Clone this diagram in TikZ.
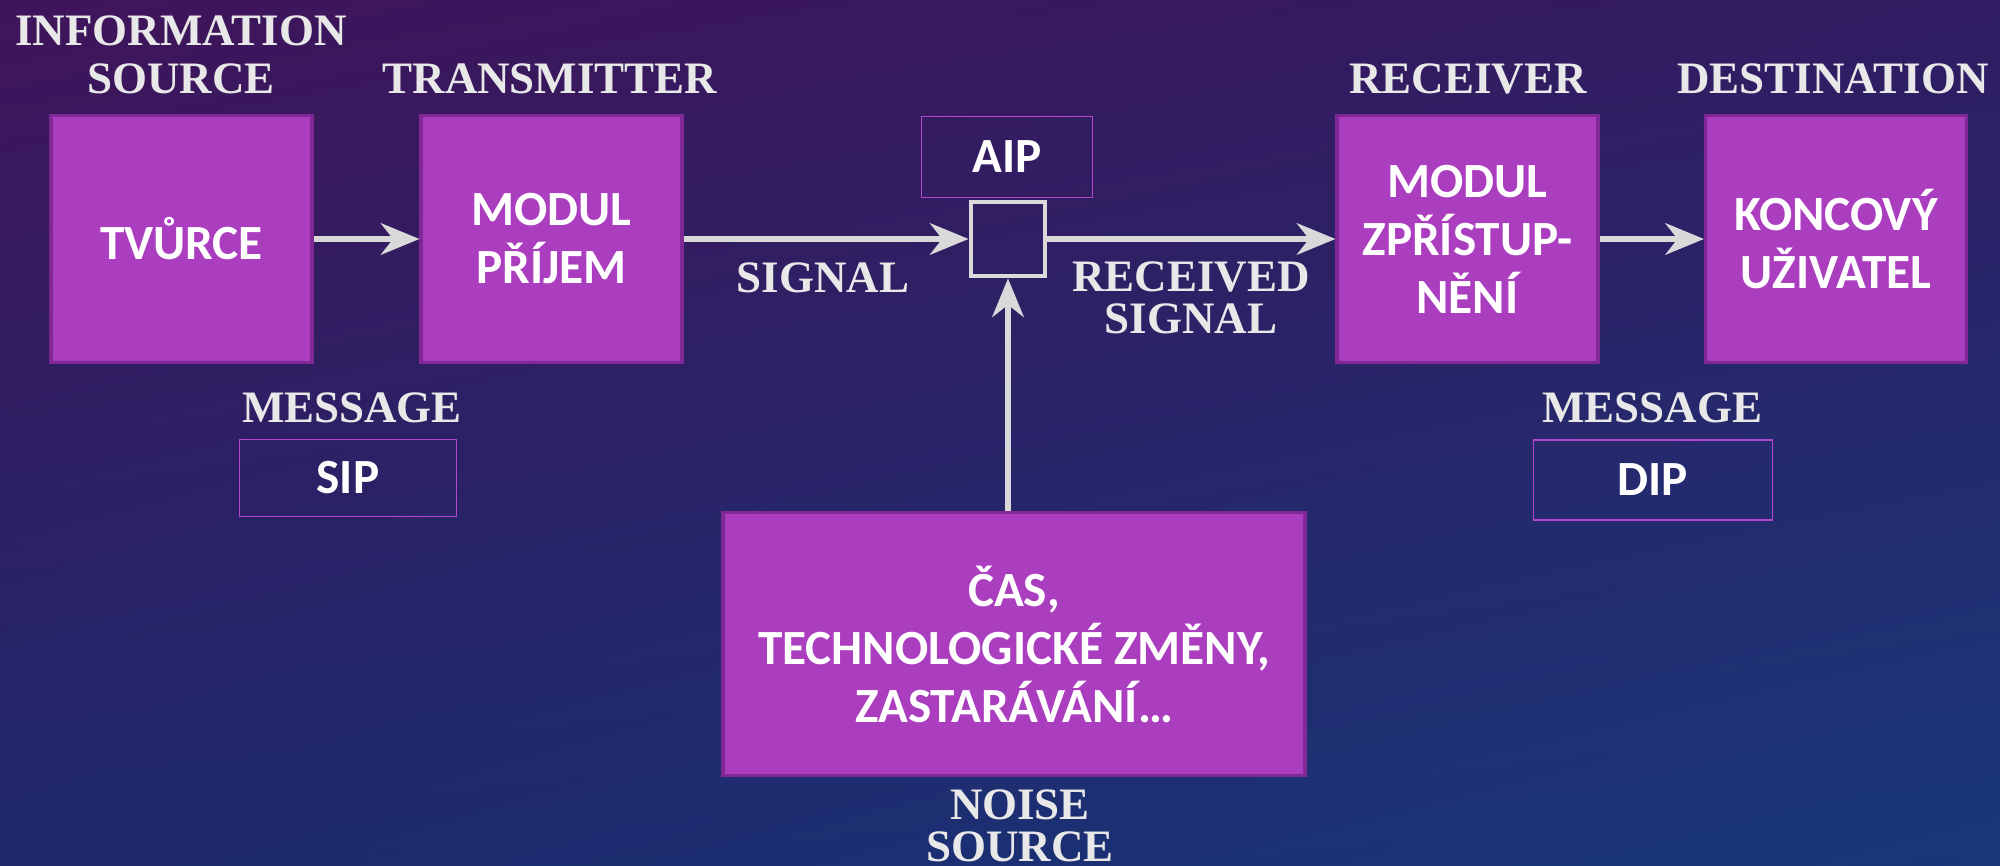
\documentclass[tikz,border=0pt]{standalone}
\usepackage{fontspec}
\setmainfont{Liberation Serif}
\newfontfamily\boxfont{Carlito}
\usetikzlibrary{arrows.meta,shadings}

\begin{document}
\begin{tikzpicture}
          [every node/.style = {align = center},
           block/.style   = {draw = blockline, line width = 0.9pt, fill = blockcolor, text = white,
                             font = \boxfont\bfseries\fontsize{14}{16.5}\selectfont,
                             minimum width = 2.61cm, minimum height = 2.47cm, inner sep = 0pt},
           infobox/.style = {draw = infoline, line width = 0.5pt, text = white,
                             font = \boxfont\bfseries\fontsize{14}{16.5}\selectfont, inner sep = 0pt},
           caption/.style = {text = labelcolor, font = \bfseries\fontsize{12.8}{11.8}\selectfont, inner sep = 0pt},
           flow/.style    = {draw = arrowcolor, line width = 1.5pt,
                             -{Stealth[length = 11pt, width = 9pt, inset = 3.5pt]}}]

% Define colours
\definecolor{blockcolor}{RGB}{171,61,191}
\definecolor{blockline}{RGB}{128,40,150}
\definecolor{infoline}{RGB}{180,70,204}
\definecolor{arrowcolor}{RGB}{217,217,217}
\definecolor{labelcolor}{RGB}{232,232,232}
\definecolor{bgtopleft}{RGB}{64,20,90}
\definecolor{bgtopright}{RGB}{48,28,98}
\definecolor{bgbotleft}{RGB}{30,40,108}
\definecolor{bgbotright}{RGB}{24,56,122}

% background
\shade [upper left = bgtopleft, upper right = bgtopright,
        lower left = bgbotleft, lower right = bgbotright] (0,0) rectangle (20,8.66);
\useasboundingbox (0,0) rectangle (20,8.66);

% main chain
\path
    node [block](tvurce)   at (1.815,6.27) {TVŮRCE}
    node [block](prijem)   at (5.515,6.27) {MODUL\\PŘÍJEM}
    node [draw = arrowcolor, line width = 1.4pt, minimum size = 0.74cm, inner sep = 0pt](mix) at (10.08,6.27) {}
    node [block](zpristup) at (14.675,6.27) {MODUL\\ZPŘÍSTUP-\\NĚNÍ}
    node [block](uzivatel) at (18.36,6.27) {KONCOVÝ\\UŽIVATEL}
    node [block, minimum width = 5.82cm, minimum height = 2.63cm](noise) at (10.14,2.22)
         {ČAS,\\TECHNOLOGICKÉ ZMĚNY,\\ZASTARÁVÁNÍ…}
    ;

% packages
\path
    node [infobox, minimum width = 1.71cm, minimum height = 0.81cm](aip) at (10.07,7.09) {AIP}
    node [infobox, minimum width = 2.17cm, minimum height = 0.77cm](sip) at (3.48,3.88) {SIP}
    node [infobox, minimum width = 2.39cm, minimum height = 0.80cm](dip) at (16.53,3.86) {DIP}
    ;

% captions
\path
    node [caption](infosource)  at (1.81,8.11)  {INFORMATION\\[2pt]SOURCE}
    node [caption](transmitter) at (5.50,7.87)  {TRANSMITTER}
    node [caption](receiver)    at (14.68,7.87) {RECEIVER}
    node [caption](destination) at (18.33,7.87) {DESTINATION}
    node [caption](signal)      at (8.23,5.88)  {SIGNAL}
    node [caption](received)    at (11.91,5.68) {RECEIVED\\SIGNAL}
    node [caption](messageleft) at (3.52,4.58)  {MESSAGE}
    node [caption](messageright) at (16.52,4.58) {MESSAGE}
    node [caption](noisesource) at (10.20,0.40) {NOISE\\SOURCE}
    ;

% connections
\draw [flow] (tvurce)   -- (prijem);
\draw [flow] (prijem)   -- (mix);
\draw [flow] (mix)      -- (zpristup);
\draw [flow] (zpristup) -- (uzivatel);
\draw [flow] (mix |- noise.north) -- (mix.south);

\end{tikzpicture}
\end{document}
